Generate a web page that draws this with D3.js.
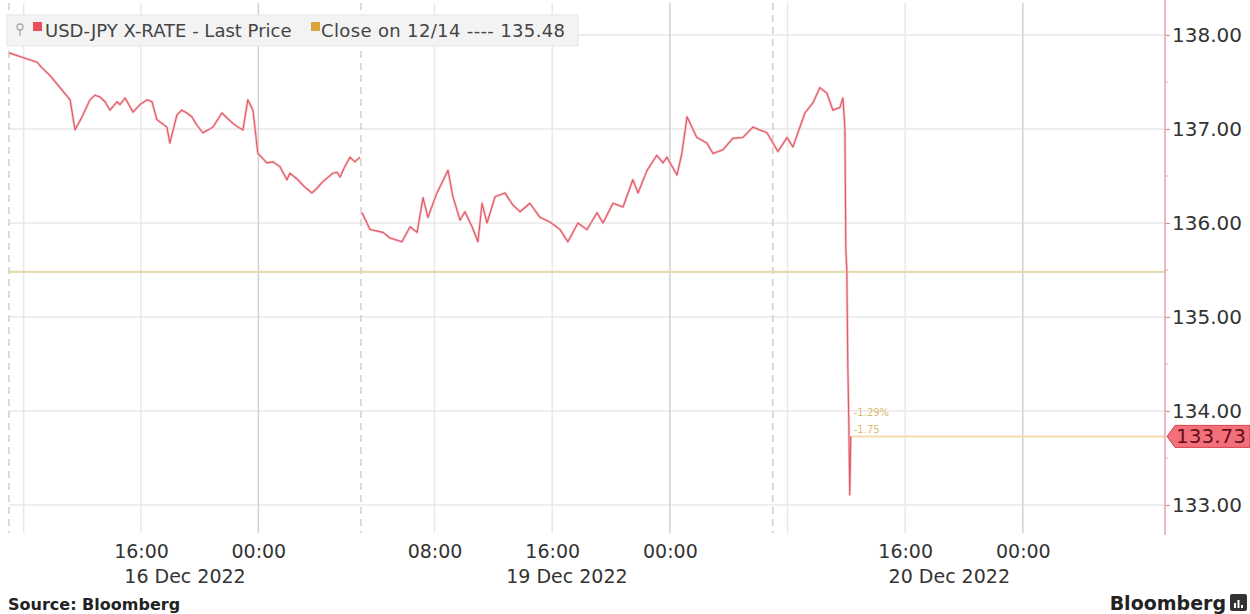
<!DOCTYPE html>
<html><head><meta charset="utf-8">
<script src="https://cdn.jsdelivr.net/npm/d3@7"></script>
<style>
body{margin:0;background:#fff;}
svg{display:block;font-family:"DejaVu Sans",sans-serif;}
</style>
</head><body>
<svg id="c" width="1250" height="614"></svg>
<script>
// ---------------- data ----------------
const seriesName = "USD-JPY X-RATE - Last Price";
const closeLabel = "Close on 12/14 ---- 135.48";
const closeValue = 135.48;
const lastValue = 133.73;
const changeLabels = ["-1.29%", "-1.75"];
const sourceText = "Source: Bloomberg";
const brandText = "Bloomberg";

const priceTimes = [
 "2022-12-16 07:00","2022-12-16 07:57","2022-12-16 08:55","2022-12-16 09:15","2022-12-16 09:47","2022-12-16 10:29",
 "2022-12-16 11:10","2022-12-16 11:30","2022-12-16 11:59","2022-12-16 12:31","2022-12-16 12:52","2022-12-16 13:12",
 "2022-12-16 13:33","2022-12-16 13:53","2022-12-16 14:22","2022-12-16 14:34","2022-12-16 14:55","2022-12-16 15:27",
 "2022-12-16 15:56","2022-12-16 16:25","2022-12-16 16:45","2022-12-16 17:05","2022-12-16 17:46","2022-12-16 17:58",
 "2022-12-16 18:27","2022-12-16 18:47","2022-12-16 19:08","2022-12-16 19:28","2022-12-16 19:49","2022-12-16 20:13",
 "2022-12-16 20:34","2022-12-16 20:54","2022-12-16 21:31","2022-12-16 21:51","2022-12-16 22:16","2022-12-16 22:37",
 "2022-12-16 22:57","2022-12-16 23:17","2022-12-16 23:38","2022-12-16 23:58","2022-12-17 00:35","2022-12-17 01:00",
 "2022-12-17 01:28","2022-12-17 01:57","2022-12-17 02:09","2022-12-17 02:42","2022-12-17 03:11","2022-12-17 03:39",
 "2022-12-17 04:00","2022-12-17 04:24","2022-12-17 05:05","2022-12-17 05:22","2022-12-17 05:34","2022-12-17 05:54",
 "2022-12-17 06:15","2022-12-17 06:35","2022-12-17 06:56",
 "2022-12-19 03:04","2022-12-19 03:37","2022-12-19 04:30","2022-12-19 04:58","2022-12-19 05:47","2022-12-19 06:20",
 "2022-12-19 06:49","2022-12-19 07:13","2022-12-19 07:33","2022-12-19 08:10","2022-12-19 08:55","2022-12-19 09:15",
 "2022-12-19 09:44","2022-12-19 10:04","2022-12-19 10:33","2022-12-19 10:57","2022-12-19 11:14","2022-12-19 11:34",
 "2022-12-19 12:07","2022-12-19 12:47","2022-12-19 13:20","2022-12-19 13:49","2022-12-19 14:29","2022-12-19 15:10",
 "2022-12-19 15:51","2022-12-19 16:32","2022-12-19 17:04","2022-12-19 17:45","2022-12-19 18:22","2022-12-19 19:03",
 "2022-12-19 19:27","2022-12-19 20:08","2022-12-19 20:49","2022-12-19 21:29","2022-12-19 21:50","2022-12-19 22:27",
 "2022-12-19 23:07","2022-12-19 23:32","2022-12-19 23:48","2022-12-20 00:29","2022-12-20 00:49","2022-12-20 01:10",
 "2022-12-20 01:50","2022-12-20 02:31","2022-12-20 02:56","2022-12-20 03:37","2022-12-20 04:17","2022-12-20 04:58",
 "2022-12-20 05:39","2022-12-20 06:36","2022-12-20 07:21","2022-12-20 07:58","2022-12-20 08:22","2022-12-20 09:11",
 "2022-12-20 09:44","2022-12-20 10:12","2022-12-20 10:41","2022-12-20 11:05","2022-12-20 11:34","2022-12-20 11:46",
 "2022-12-20 11:54","2022-12-20 11:58","2022-12-20 12:02","2022-12-20 12:06","2022-12-20 12:10","2022-12-20 12:14",
 "2022-12-20 12:18"
];
const priceValues = [
 137.81,137.76,137.71,137.65,137.57,137.44,
 137.31,136.99,137.13,137.31,137.36,137.34,
 137.29,137.20,137.29,137.26,137.33,137.18,
 137.26,137.31,137.29,137.10,137.02,136.85,
 137.15,137.20,137.17,137.13,137.04,136.96,
 136.99,137.02,137.17,137.12,137.06,137.02,
 136.99,137.31,137.20,136.74,136.64,136.65,
 136.60,136.46,136.53,136.46,136.38,136.32,
 136.37,136.44,136.53,136.54,136.49,136.60,
 136.70,136.65,136.70,
 136.11,135.93,135.90,135.84,135.80,135.96,
 135.90,136.27,136.06,136.32,136.56,136.28,
 136.03,136.12,135.96,135.80,136.21,136.00,
 136.28,136.32,136.19,136.12,136.21,136.06,
 136.01,135.93,135.80,136.00,135.93,136.11,
 136.00,136.21,136.17,136.46,136.32,136.56,
 136.72,136.64,136.70,136.51,136.74,137.13,
 136.91,136.85,136.74,136.78,136.90,136.91,
 137.02,136.96,136.76,136.91,136.81,137.17,
 137.28,137.44,137.38,137.20,137.23,137.33,
 137.02,135.71,135.50,134.49,133.90,133.11,
 133.73
];

const yTicks = [133, 134, 135, 136, 137, 138];
const yMinorTicks = [133.5, 134.5, 135.5, 136.5, 137.5];
const gridTimes = ["2022-12-16 08:00","2022-12-16 16:00","2022-12-17 00:00","2022-12-19 08:00","2022-12-19 16:00",
                   "2022-12-20 00:00","2022-12-20 08:00","2022-12-20 16:00","2022-12-21 00:00"];
const sessionBreaks = ["2022-12-16 07:00","2022-12-17 07:00","2022-12-20 07:00"];
const timeTickTimes = ["2022-12-16 16:00","2022-12-17 00:00","2022-12-19 08:00","2022-12-19 16:00",
                       "2022-12-20 00:00","2022-12-20 16:00","2022-12-21 00:00"];
const dateLabels = ["16 Dec 2022","19 Dec 2022","20 Dec 2022"];
const dateLabelTimes = ["2022-12-16 19:00","2022-12-19 17:00","2022-12-20 19:00"];
const weekendStart = "2022-12-17 07:00", weekendEnd = "2022-12-19 03:00";
const domainStart = "2022-12-16 07:00", domainEnd = "2022-12-21 09:40";

// ---------------- chart ----------------
(function(){
const parse = d3.timeParse("%Y-%m-%d %H:%M");
const data = priceTimes.map((t,i)=>({t:parse(t), v:priceValues[i]}));
const svg = d3.select("#c");

const pL = 9, pR = 1165, pT = 3, pB = 533, breakX = 361;
const x = d3.scaleTime()
  .domain([parse(domainStart), parse(weekendStart), parse(weekendEnd), parse(domainEnd)])
  .range([pL, breakX, breakX, pR]);
const y = d3.scaleLinear().domain([133, 138]).range([505, 35]);

// horizontal gridlines
svg.append("g").selectAll("line").data(yTicks).join("line")
  .attr("x1", pL).attr("x2", pR)
  .attr("y1", d=>y(d)).attr("y2", d=>y(d))
  .attr("stroke", "#e8e8e8").attr("stroke-width", 1.5);

// vertical gridlines
svg.append("g").selectAll("line").data(gridTimes).join("line")
  .attr("x1", d=>x(parse(d))).attr("x2", d=>x(parse(d)))
  .attr("y1", pT).attr("y2", pB)
  .attr("stroke", d=>parse(d).getHours()===0 ? "#d2d2d2" : "#e8e8e8")
  .attr("stroke-width", 1.5);

// session breaks (dashed)
svg.append("g").selectAll("line").data(sessionBreaks).join("line")
  .attr("x1", d=>x(parse(d))).attr("x2", d=>x(parse(d)))
  .attr("y1", pT).attr("y2", pB)
  .attr("stroke", "#cfcfcf").attr("stroke-width", 1.5)
  .attr("stroke-dasharray", "7,5");

// close line
svg.append("line")
  .attr("x1", pL).attr("x2", pR)
  .attr("y1", y(closeValue)).attr("y2", y(closeValue))
  .attr("stroke", "#e3dcae").attr("stroke-width", 2.2);

// last value line
const lastT = data[data.length-1].t;
svg.append("line")
  .attr("x1", x(lastT)).attr("x2", pR)
  .attr("y1", y(lastValue)).attr("y2", y(lastValue))
  .attr("stroke", "#f6dcae").attr("stroke-width", 2);

// price line (two sessions)
const line = d3.line().x(d=>x(d.t)).y(d=>y(d.v));
const wkS = parse(weekendStart);
[data.filter(d=>d.t < wkS), data.filter(d=>d.t >= wkS)].forEach(seg=>{
  svg.append("path").datum(seg).attr("d", line)
    .attr("fill","none").attr("stroke","#f8c4c9").attr("stroke-width",2.6).attr("stroke-linejoin","round");
  svg.append("path").datum(seg).attr("d", line)
    .attr("fill","none").attr("stroke","#de5865").attr("stroke-width",1.1).attr("stroke-linejoin","round");
});

// change annotations
svg.append("g").selectAll("text").data(changeLabels).join("text")
  .attr("x", x(lastT) + 3)
  .attr("y", (d,i)=> y(lastValue) - 20 + i*17)
  .attr("font-size", 10).attr("fill", "#d9bd6a")
  .text(d=>d);

// right axis
const yAxis = d3.axisRight(y).tickValues(yTicks).tickFormat(d3.format(".2f")).tickSize(5).tickPadding(2);
const ga = svg.append("g").attr("transform", `translate(${pR},0)`).call(yAxis);
ga.select(".domain").remove();
ga.selectAll(".tick line").attr("stroke", "#e08a94").attr("stroke-width", 1.2);
ga.selectAll(".tick text").attr("font-size", 20).attr("fill", "#333").attr("font-family", "DejaVu Sans");
svg.append("g").selectAll("line").data(yMinorTicks).join("line")
  .attr("x1", pR).attr("x2", pR+3)
  .attr("y1", d=>y(d)).attr("y2", d=>y(d))
  .attr("stroke", "#e8a0a8");
svg.append("line").attr("x1", pR).attr("x2", pR).attr("y1", 0).attr("y2", pB+2)
  .attr("stroke", "#e9a2aa").attr("stroke-width", 1.5);

// last price tag
const ty = y(lastValue);
svg.append("path")
  .attr("d", `M${pR+2},${ty} L${pR+10},${ty-11} L1250,${ty-11} L1250,${ty+11} L${pR+10},${ty+11} Z`)
  .attr("fill", "#f2707c").attr("stroke", "#d8424f").attr("stroke-width", 1);
svg.append("text").attr("x", pR+46).attr("y", ty+7).attr("text-anchor","middle")
  .attr("font-size", 20).attr("fill", "#6a0d16").text(d3.format(".2f")(lastValue));

// bottom axis
const xAxis = d3.axisBottom(x).tickValues(timeTickTimes.map(parse)).tickFormat(d3.timeFormat("%H:%M")).tickSize(0).tickPadding(0);
const gx = svg.append("g").attr("transform", `translate(0,${pB+6})`).call(xAxis);
gx.select(".domain").remove();
gx.selectAll(".tick text").attr("font-size", 19).attr("fill", "#333").attr("font-family","DejaVu Sans").attr("dy", "1em");
svg.append("g").selectAll("text").data(dateLabels).join("text")
  .attr("x", (d,i)=>x(parse(dateLabelTimes[i]))).attr("y", 583)
  .attr("text-anchor","middle").attr("font-size", 19).attr("fill", "#333").text(d=>d);

// legend
const lg = svg.append("g");
lg.append("rect").attr("x", 7).attr("y", 15).attr("width", 571).attr("height", 31)
  .attr("fill", "#f3f3f3").attr("stroke", "#e6e6e6");
lg.append("circle").attr("cx", 20).attr("cy", 27).attr("r", 3).attr("fill", "none").attr("stroke", "#aaa").attr("stroke-width", 1.3);
lg.append("line").attr("x1", 20).attr("x2", 20).attr("y1", 30).attr("y2", 36).attr("stroke", "#aaa").attr("stroke-width", 1.3);
lg.append("rect").attr("x", 33).attr("y", 22).attr("width", 9).attr("height", 9).attr("fill", "#e8505e");
lg.append("text").attr("x", 45).attr("y", 37).attr("font-size", 18).attr("fill", "#444").text(seriesName);
lg.append("rect").attr("x", 311).attr("y", 22).attr("width", 9).attr("height", 9).attr("fill", "#d9a43a");
lg.append("text").attr("x", 321).attr("y", 37).attr("font-size", 18).attr("fill", "#444")
  .attr("textLength", 244).attr("lengthAdjust", "spacing").text(closeLabel);

// footer
svg.append("text").attr("x", 8).attr("y", 610).attr("font-size", 16).attr("font-weight", "bold")
  .attr("fill", "#222").text(sourceText);
svg.append("text").attr("x", 1226).attr("y", 610).attr("text-anchor","end").attr("font-size", 19)
  .attr("font-weight", "bold").attr("fill", "#222").text(brandText);
svg.append("rect").attr("x", 1230).attr("y", 594).attr("width", 17).attr("height", 17).attr("rx", 2).attr("fill", "#333");
svg.append("g").selectAll("rect").data([5,8,3]).join("rect")
  .attr("x", (d,i)=>1234+i*3.5).attr("y", d=>608-d).attr("width", 2).attr("height", d=>d).attr("fill", "#fff");
})();
</script>
</body></html>
